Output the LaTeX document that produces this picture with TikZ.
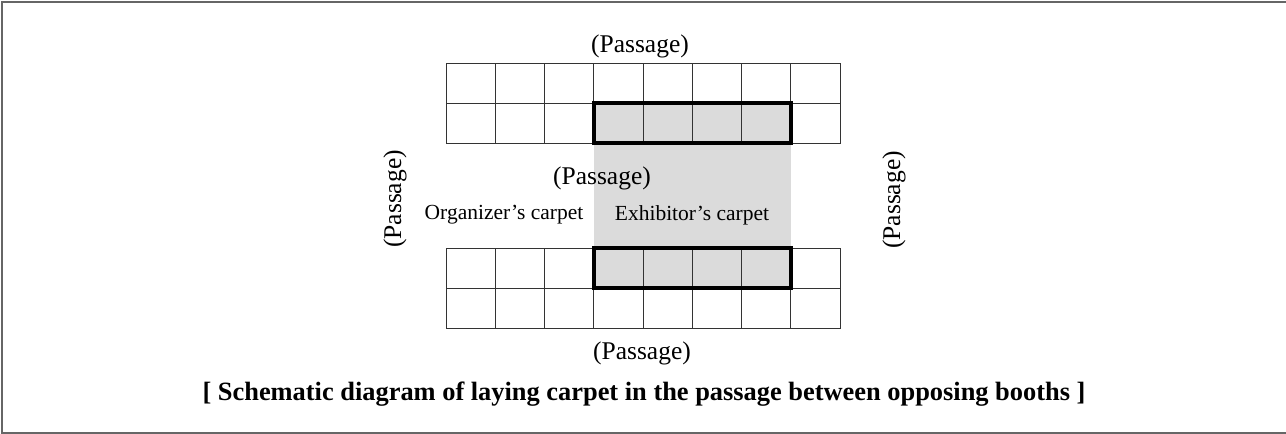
\documentclass[tikz,border=0pt]{standalone}
\usepackage{fontspec}
\setmainfont{Liberation Serif}
\begin{document}
\begin{tikzpicture}[x=1pt,y=-1pt,
  gridline/.style={draw=black!80,line width=1pt},
  thickbox/.style={draw=black,line width=3.2pt},
  carpetfill/.style={fill=black!14},
  frameline/.style={draw=black!60,line width=2pt},
  passlabel/.style={font=\fontsize{25.5}{28}\selectfont,inner sep=0pt},
  carpetlabel/.style={font=\fontsize{21.5}{24}\selectfont,inner sep=0pt},
  caption/.style={font=\fontsize{26.4}{29}\selectfont\bfseries,inner sep=0pt}]
\useasboundingbox (0,0) rectangle (1286,434);
% frame (left, top, bottom)
\draw[frameline] (1290,2) -- (2,2) -- (2,433) -- (1290,433);
% gray carpet area
\fill[carpetfill] (594,103) rectangle (791,288);
% top grid
\foreach \i in {0,...,7}{
  \foreach \j in {0,1}{
    \draw[gridline] ({446+\i*49.25},{63+\j*40}) rectangle ++(49.25,40);
  }
}
% bottom grid
\foreach \i in {0,...,7}{
  \foreach \j in {0,1}{
    \draw[gridline] ({446+\i*49.25},{248+\j*40}) rectangle ++(49.25,40);
  }
}
% thick outlines
\draw[thickbox] (594,103) rectangle (791,143);
\draw[thickbox] (594,248) rectangle (791,288);
% labels
\node[passlabel] (ptop) at (640,46) {(Passage)};
\node[passlabel] (pmid) at (602,178) {(Passage)};
\node[passlabel] (pbot) at (642,353) {(Passage)};
\node[passlabel,rotate=90] (pleft) at (395,199) {(Passage)};
\node[passlabel,rotate=90] (pright) at (894,200) {(Passage)};
\node[carpetlabel] (org) at (504,215) {Organizer’s carpet};
\node[carpetlabel] (exh) at (692,215) {Exhibitor’s carpet};
\node[caption] (cap) at (644,394) {[ Schematic diagram of laying carpet in the passage between opposing booths ]};
\end{tikzpicture}
\end{document}
